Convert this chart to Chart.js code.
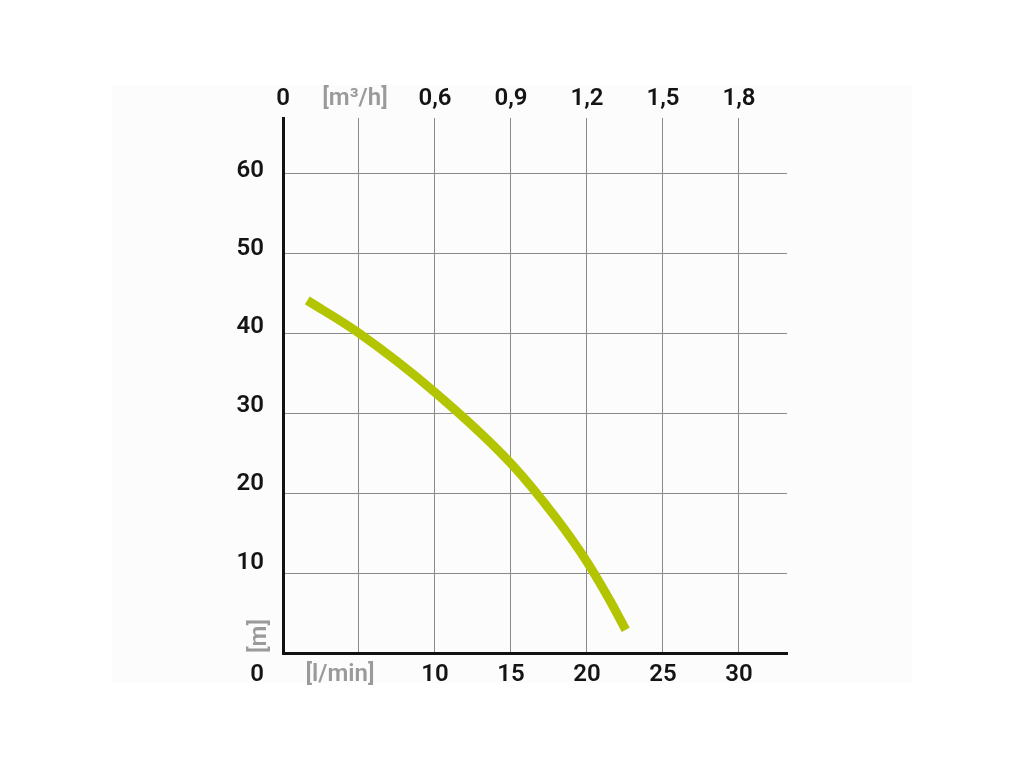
<!DOCTYPE html>
<html>
<head>
<meta charset="utf-8">
<script src="https://cdn.jsdelivr.net/npm/chart.js@4.4.1/dist/chart.umd.min.js"></script>
<style>
html,body{margin:0;padding:0;background:#ffffff;}
#wrap{width:1024px;height:768px;position:relative;}
</style>
</head>
<body>
<div id="wrap"><canvas id="c" width="1024" height="768"></canvas></div>
<script>
// Flow in l/min (bottom axis) and head in m (left axis)
const flowLmin = [1.6, 5, 10, 15, 18, 20, 21.5, 22.55];
const headM    = [44.1, 40, 32.6, 23.7, 16.8, 11.4, 6.6, 2.9];

const xTicks = [0, 5, 10, 15, 20, 25, 30];
const yTicks = [0, 10, 20, 30, 40, 50, 60];
const bottomLabels = ['', '[l/min]', '10', '15', '20', '25', '30'];
const topLabels    = ['0', '[m\u00B3/h]', '0,6', '0,9', '1,2', '1,5', '1,8'];
const leftLabels   = ['0', '10', '20', '30', '40', '50', '60'];
const yUnit = '[m]';
const X_MAX = 33.16;
const Y_MAX = 66.9;

const FONT = '600 24px Roboto, "DejaVu Sans Condensed", sans-serif';
const DARK = '#141414';
const GREY = '#9a9a9a';

const labelsPlugin = {
  id: 'labels',
  beforeDraw(chart) {
    const ctx = chart.ctx;
    ctx.save();
    ctx.fillStyle = '#fcfcfc';
    ctx.fillRect(112, 85, 800, 598);
    ctx.restore();
  },
  afterDraw(chart) {
    const ctx = chart.ctx;
    const xs = chart.scales.x, ys = chart.scales.y;
    const area = chart.chartArea;
    ctx.save();
    ctx.font = FONT;
    ctx.textBaseline = 'alphabetic';
    const off = 8.5;
    ctx.textAlign = 'center';
    xTicks.forEach((v, i) => {
      const px = xs.getPixelForValue(v);
      const b = bottomLabels[i];
      if (b) {
        const isUnit = b.startsWith('[');
        ctx.fillStyle = isUnit ? GREY : DARK;
        ctx.fillText(b, isUnit ? px - 19 : px, area.bottom + 19 + off);
      }
      const t = topLabels[i];
      if (t) {
        const isUnit = t.startsWith('[');
        ctx.fillStyle = isUnit ? GREY : DARK;
        ctx.fillText(t, isUnit ? px - 4 : px, area.top - 22 + off);
      }
    });
    ctx.textAlign = 'right';
    ctx.fillStyle = DARK;
    yTicks.forEach((v, i) => {
      const py = ys.getPixelForValue(v);
      let cy;
      if (v === 0) cy = area.bottom + 19;
      else cy = py - (5 + (60 - v) * 0.16);
      ctx.fillText(leftLabels[i], area.left - 19, cy + off);
    });
    ctx.translate(area.left - 26, area.bottom - 17);
    ctx.rotate(-Math.PI / 2);
    ctx.textAlign = 'center';
    ctx.fillStyle = GREY;
    ctx.fillText(yUnit, 0, off);
    ctx.restore();
  }
};

new Chart(document.getElementById('c'), {
  type: 'line',
  data: {
    datasets: [{
      data: flowLmin.map((x, i) => ({x: x, y: headM[i]})),
      borderColor: '#b3c400',
      borderWidth: 9,
      borderCapStyle: 'butt',
      pointRadius: 0,
      cubicInterpolationMode: 'monotone',
      fill: false
    }]
  },
  options: {
    responsive: false,
    animation: false,
    devicePixelRatio: 1,
    layout: { padding: { left: 283, right: 237, top: 118, bottom: 115 } },
    plugins: { legend: { display: false }, tooltip: { enabled: false } },
    scales: {
      x: {
        type: 'linear', min: 0, max: X_MAX, z: 1,
        afterBuildTicks: s => { s.ticks = xTicks.map(v => ({value: v})); },
        ticks: { display: false },
        grid: { color: '#8a8a8a', lineWidth: 1, drawTicks: false },
        border: { display: true, color: '#111111', width: 3 }
      },
      y: {
        type: 'linear', min: 0, max: Y_MAX, z: 1,
        afterBuildTicks: s => { s.ticks = yTicks.map(v => ({value: v})); },
        ticks: { display: false },
        grid: { color: '#8a8a8a', lineWidth: 1, drawTicks: false },
        border: { display: true, color: '#111111', width: 3 }
      }
    }
  },
  plugins: [labelsPlugin]
});
</script>
</body>
</html>
